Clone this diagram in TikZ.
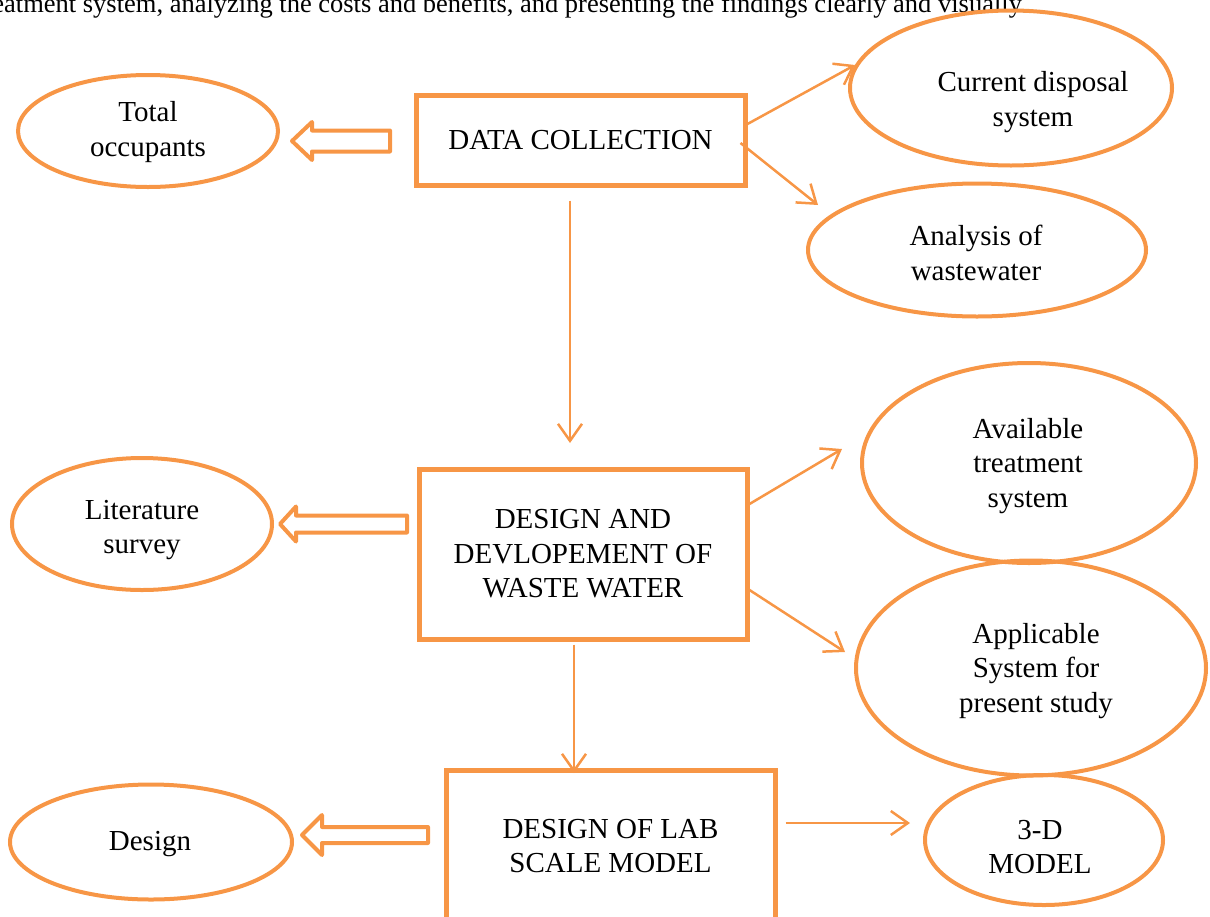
\documentclass[tikz,border=0pt]{standalone}
\usepackage{fontspec}
\setmainfont{Liberation Serif}
\usetikzlibrary{shapes.geometric,arrows.meta}
\definecolor{org}{HTML}{F79646}
\newcommand\blockarr[6]{% tip x, y, head base x, tail x, half head, half shaft
  \draw[hollow] (#1,#2) -- (#3,{#2-#5}) -- (#3,{#2-#6}) -- (#4,{#2-#6}) -- (#4,{#2+#6}) -- (#3,{#2+#6}) -- (#3,{#2+#5}) -- cycle;}
\begin{document}
\begin{tikzpicture}[x=1pt,y=-1pt,
  txt/.style={align=center,font=\fontsize{29}{34.5}\selectfont,inner sep=0pt,text=black},
  box/.style={txt,draw=org,line width=5pt,rectangle},
  oval/.style={draw=org,line width=4pt,ellipse,inner sep=0pt},
  conn/.style={draw=org,line width=2.5pt,-{Straight Barb[length=17pt,width=24pt]}},
  hollow/.style={draw=org,line width=4pt,line join=round,fill=white}]
\useasboundingbox (0,0) rectangle (1210,916);
\clip (0,0) rectangle (1210,916);

% cut-off sentence at the top
\node[txt,anchor=base east,font=\fontsize{26.5}{30}\selectfont] (top) at (1027,12) {for a treatment system, analyzing the costs and benefits, and presenting the findings clearly and visually.};

% main boxes
\node[box,minimum width=329pt,minimum height=90pt] (dc) at (580.5,140) {DATA COLLECTION};
\node[box,minimum width=328pt,minimum height=170pt] (dd) at (583,554) {DESIGN AND\\DEVLOPEMENT OF\\WASTE WATER};
\node[box,minimum width=329pt,minimum height=152pt] (dl) at (610.5,846) {DESIGN OF LAB\\SCALE MODEL};

% ellipses
\node[oval,minimum width=260pt,minimum height=112pt] (to) at (148,131) {};
\node[txt] at (148,132) {Total\\occupants};
\node[oval,minimum width=322pt,minimum height=155pt] (cd) at (1011,88) {};
\node[txt] at (1033,102) {Current disposal\\system};
\node[oval,minimum width=338pt,minimum height=133pt] (aw) at (977,250) {};
\node[txt] at (976,253) {Analysis of\\wastewater};
\node[oval,minimum width=260pt,minimum height=132pt] (lit) at (142,524) {};
\node[txt] at (142,530) {Literature\\survey};
\node[oval,minimum width=334pt,minimum height=200pt] (ats) at (1029,463) {};
\node[txt] at (1028,466) {Available\\treatment\\system};
\node[oval,minimum width=350pt,minimum height=215pt] (app) at (1031,668) {};
\node[txt] at (1036,671) {Applicable\\System for\\present study};
\node[oval,minimum width=282pt,minimum height=115pt] (des) at (151,842) {};
\node[txt] at (150,844) {Design};
\node[oval,minimum width=238pt,minimum height=130pt] (tdm) at (1044,840) {};
\node[txt] at (1040,847) {3-D\\MODEL};

% hollow block arrows
\blockarr{292}{141}{312}{390}{19}{10.5}
\blockarr{280}{524}{296}{407}{17.5}{8.5}
\blockarr{302}{835}{322}{428}{20}{8}

% thin connectors
\coordinate (a1) at (855,65);
\coordinate (a2) at (818,205);
\coordinate (a3) at (570,443);
\coordinate (a4) at (842,449);
\coordinate (a5) at (845,652);
\coordinate (a6) at (574,773);
\coordinate (a7) at (910,823);
\draw[conn] ([yshift=16pt]dc.east) -- (a1);
\draw[conn] ([xshift=-7pt,yshift=-3pt]dc.east) -- (a2);
\draw[conn] ([xshift=-10.5pt,yshift=-13pt]dc.south) -- (a3);
\draw[conn] ([yshift=50pt]dd.east) -- (a4);
\draw[conn] ([yshift=-36pt]dd.east) -- (a5);
\draw[conn] ([xshift=-9pt,yshift=-3pt]dd.south) -- (a6);
\draw[conn] ([xshift=8pt,yshift=23pt]dl.east) -- (a7);
\end{tikzpicture}
\end{document}
